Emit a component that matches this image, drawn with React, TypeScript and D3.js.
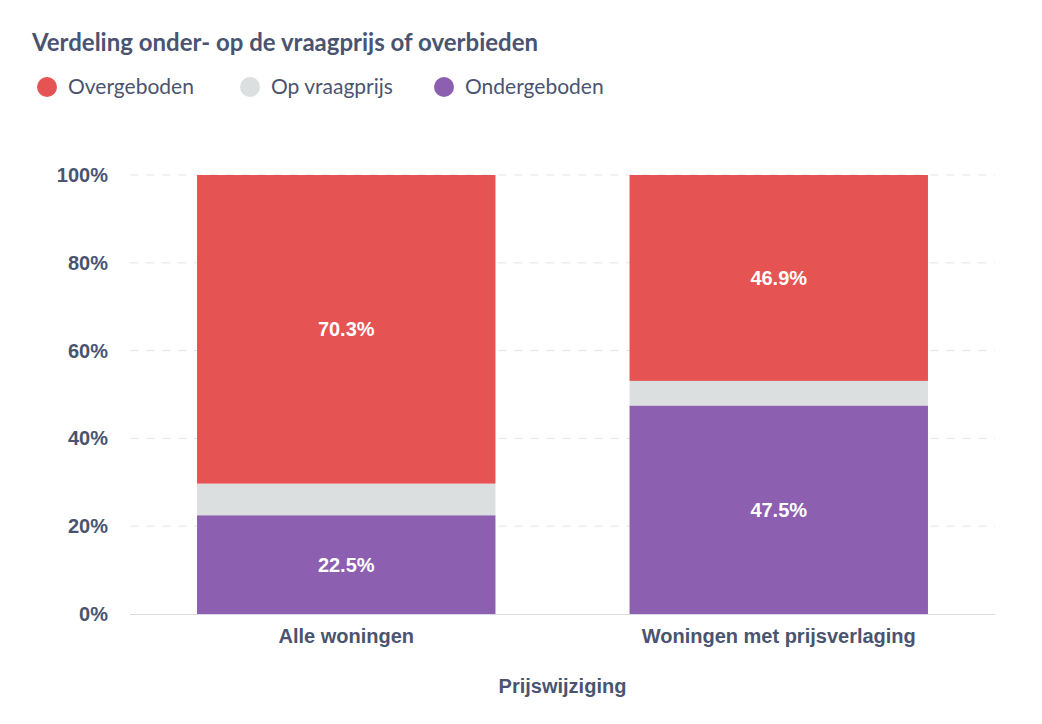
import React from 'react';
import * as d3 from 'd3';

const categories = ['Alle woningen', 'Woningen met prijsverlaging'];
const series = ['Ondergeboden', 'Op vraagprijs', 'Overgeboden'];
const ondergeboden = [22.5, 47.5];
const opVraagprijs = [7.2, 5.6];
const overgeboden = [70.3, 46.9];
const yTicks = [0, 20, 40, 60, 80, 100];
const colors: Record<string, string> = {
  Ondergeboden: '#8c5fb0',
  'Op vraagprijs': '#dcdfe0',
  Overgeboden: '#e55353',
};
const legendOrder = ['Overgeboden', 'Op vraagprijs', 'Ondergeboden'];
const legendX = [47, 250, 444];

const W = 1042, H = 724;
const left = 130, right = 995, top = 175, bottom = 614;
const textColor = '#4a5470';

const App: React.FC = () => {
  const x = d3.scaleBand().domain(categories).range([left, right]).paddingInner(0.31).paddingOuter(0.155);
  const y = d3.scaleLinear().domain([0, 100]).range([bottom, top]);
  const rows = categories.map((c, i) => ({
    cat: c,
    Ondergeboden: ondergeboden[i],
    'Op vraagprijs': opVraagprijs[i],
    Overgeboden: overgeboden[i],
  }));
  const stacked = d3.stack<any>().keys(series)(rows);

  return (
    <svg width={W} height={H} style={{ position: 'absolute', left: 0, top: 0, background: '#fff' }}>
      <text x={32} y={51} fontFamily="Lato" fontWeight={700} fontSize={24} fill={textColor}>
        Verdeling onder- op de vraagprijs of overbieden
      </text>
      {legendOrder.map((s, i) => (
        <g key={s}>
          <circle cx={legendX[i]} cy={87} r={10} fill={colors[s]} />
          <text x={legendX[i] + 21} y={94} fontFamily="Lato" fontSize={21} fill={textColor}>{s}</text>
        </g>
      ))}
      {yTicks.map((t) => (
        <g key={t}>
          {t > 0 && (
            <line x1={left} x2={right} y1={y(t)} y2={y(t)} stroke="#e3e5e8" strokeDasharray="8,8" />
          )}
          <text x={108} y={y(t) + 7} textAnchor="end" fontFamily="Liberation Sans" fontWeight={700} fontSize={20} fill={textColor}>
            {t}%
          </text>
        </g>
      ))}
      <line x1={left} x2={right} y1={bottom + 0.5} y2={bottom + 0.5} stroke="#d8dbe0" />
      {stacked.map((layer) =>
        layer.map((d, i) => (
          <rect key={layer.key + i} x={x(categories[i])} width={x.bandwidth()} y={y(d[1])} height={y(d[0]) - y(d[1])} fill={colors[layer.key]} />
        ))
      )}
      {stacked.filter((l) => l.key !== 'Op vraagprijs').map((layer) =>
        layer.map((d, i) => (
          <text key={'l' + layer.key + i} x={x(categories[i])! + x.bandwidth() / 2} y={y((d[0] + d[1]) / 2) + 7} textAnchor="middle"
            fontFamily="Liberation Sans" fontWeight={700} fontSize={20} fill="#fff">
            {(d[1] - d[0]).toFixed(1)}%
          </text>
        ))
      )}
      {categories.map((c) => (
        <text key={c} x={x(c)! + x.bandwidth() / 2} y={643} textAnchor="middle" fontFamily="Liberation Sans" fontWeight={700} fontSize={20} fill={textColor}>
          {c}
        </text>
      ))}
      <text x={(left + right) / 2} y={693} textAnchor="middle" fontFamily="Liberation Sans" fontWeight={700} fontSize={20} fill={textColor}>
        Prijswijziging
      </text>
    </svg>
  );
};

export default App;
